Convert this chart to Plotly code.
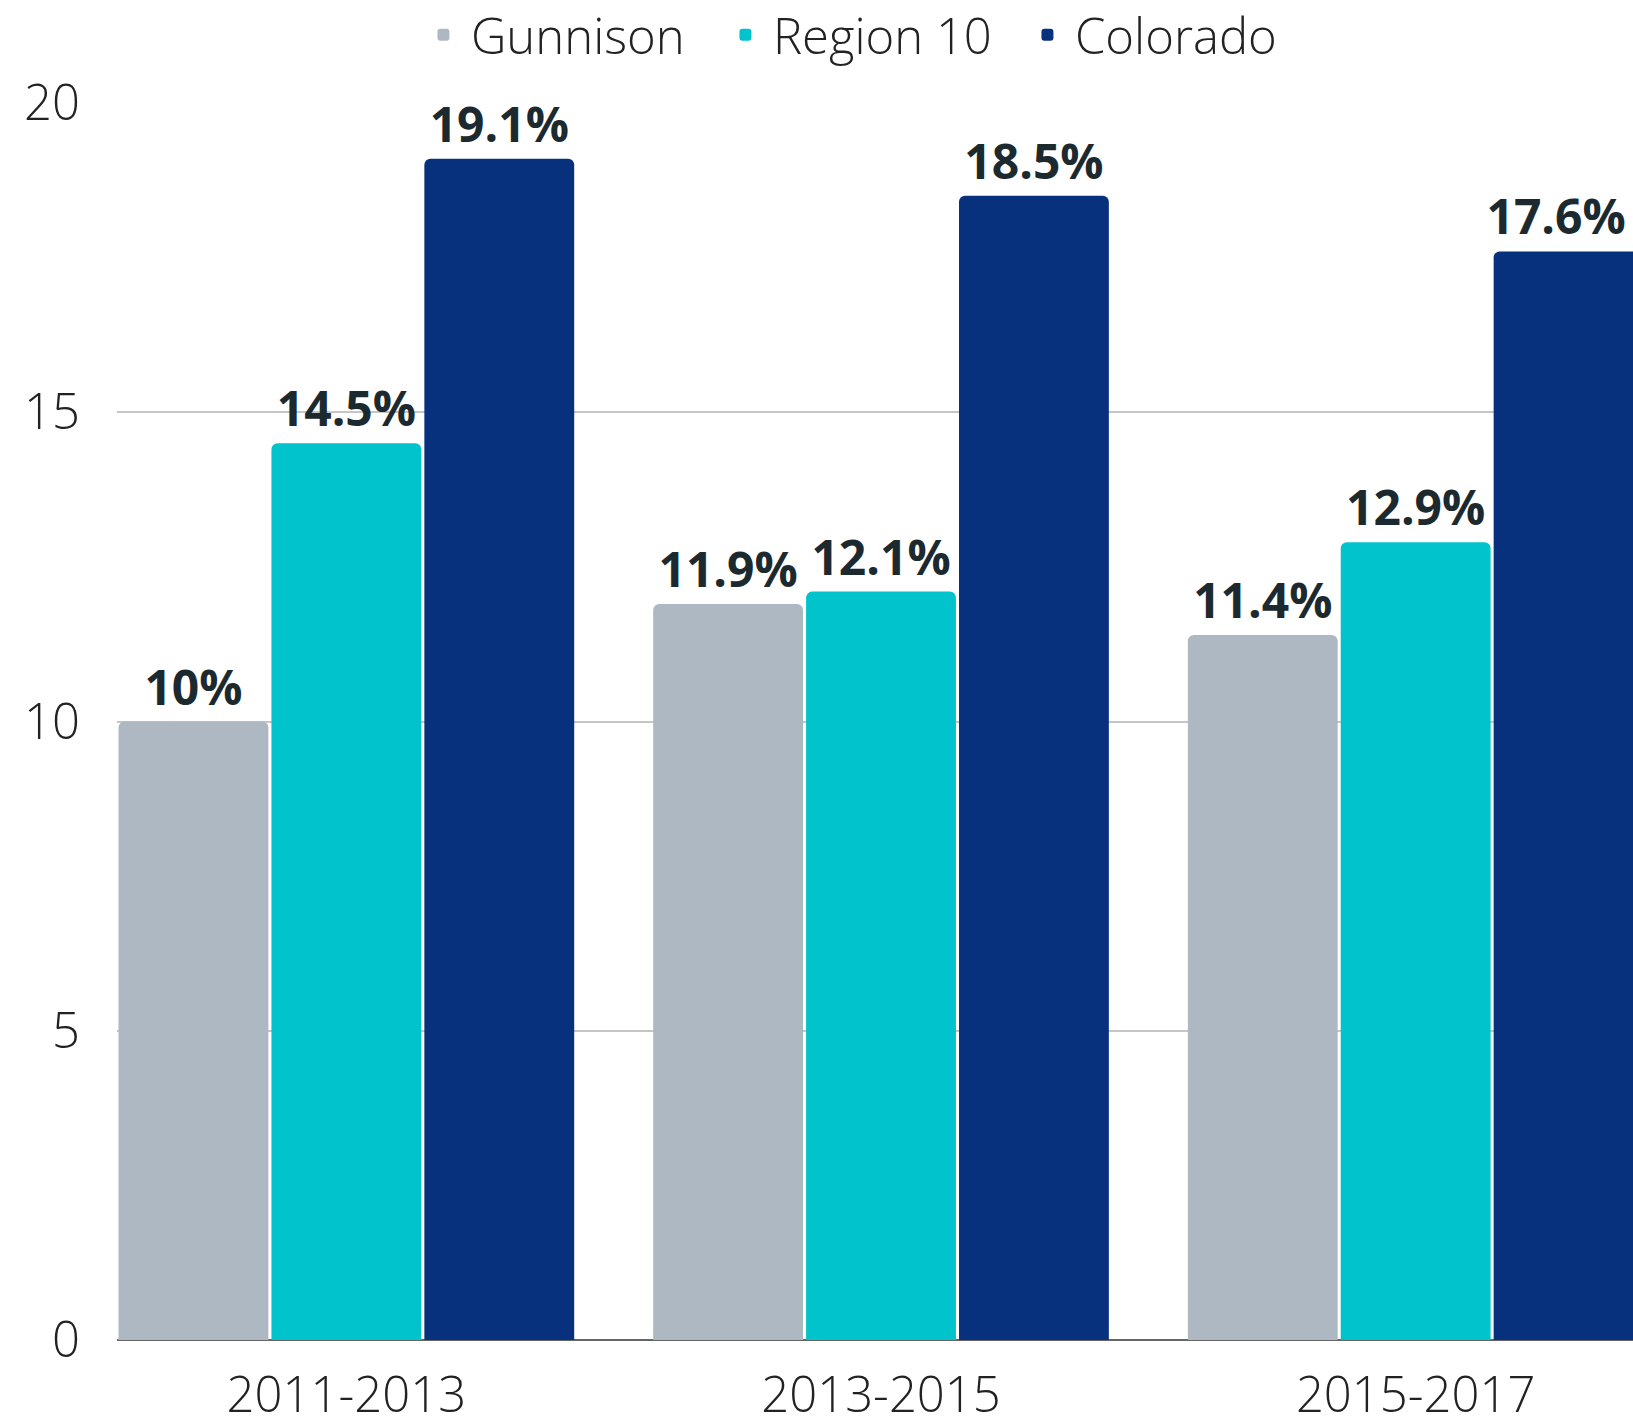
import plotly.graph_objects as go

categories = ["2011-2013", "2013-2015", "2015-2017"]
series_names = ["Gunnison", "Region 10", "Colorado"]
gunnison = [10, 11.9, 11.4]
region10 = [14.5, 12.1, 12.9]
colorado = [19.1, 18.5, 17.6]
gunnison_labels = ["10%", "11.9%", "11.4%"]
region10_labels = ["14.5%", "12.1%", "12.9%"]
colorado_labels = ["19.1%", "18.5%", "17.6%"]
y_ticks = [0, 5, 10, 15, 20]

colors = ["#AEB8C3", "#00C3CB", "#07317C"]
values = [gunnison, region10, colorado]
labels = [gunnison_labels, region10_labels, colorado_labels]

fig = go.Figure()
for name, vals, labs, col in zip(series_names, values, labels, colors):
    # the last label sits at the right edge: pad it so it stays in view
    shown = [t + ("\u00a0\u00a0" if (name == "Colorado" and i == len(labs) - 1) else "")
             for i, t in enumerate(labs)]
    fig.add_trace(go.Bar(
        name=name, x=categories, y=vals, text=shown,
        textposition="outside", cliponaxis=False, constraintext="none",
        textfont=dict(family="Open Sans", size=48, color="#1C2A2F", weight=700),
        marker=dict(color=col, cornerradius=6, line=dict(width=0)),
        hoverinfo="skip",
    ))

fig.update_layout(
    width=1633, height=1417,
    barmode="group", bargap=0.142, bargroupgap=0.02,
    paper_bgcolor="white", plot_bgcolor="white",
    margin=dict(l=117, r=0, t=103, b=77, autoexpand=False),
    font=dict(family="Open Sans", color="#222222"),
    legend=dict(
        orientation="h", x=0.496, xanchor="center", y=1.0 + 68/1237, yanchor="middle",
        font=dict(family="Open Sans", size=49, color="#222222", weight=300),
        itemwidth=45, entrywidth=242, entrywidthmode="pixels", traceorder="normal",
    ),
    xaxis=dict(
        range=[-0.429, 2.4065], showgrid=False, showline=False, zeroline=False,
        tickfont=dict(family="Open Sans", size=49, color="#222222", weight=300),
        ticks="", ticklabelstandoff=22, automargin=False,
    ),
    yaxis=dict(
        range=[0, 20], tickvals=y_ticks, showgrid=True, gridcolor="#C6C6C6", gridwidth=2,
        zeroline=True, zerolinecolor="#666666", zerolinewidth=2, showline=False,
        tickfont=dict(family="Open Sans", size=49, color="#222222", weight=300),
        ticks="", ticklabelstandoff=36, automargin=False,
    ),
)

fig.write_html(
    "out.html",
    config={"displayModeBar": False},
    post_script="document.body.style.margin='0';document.body.style.overflow='hidden';",
)
